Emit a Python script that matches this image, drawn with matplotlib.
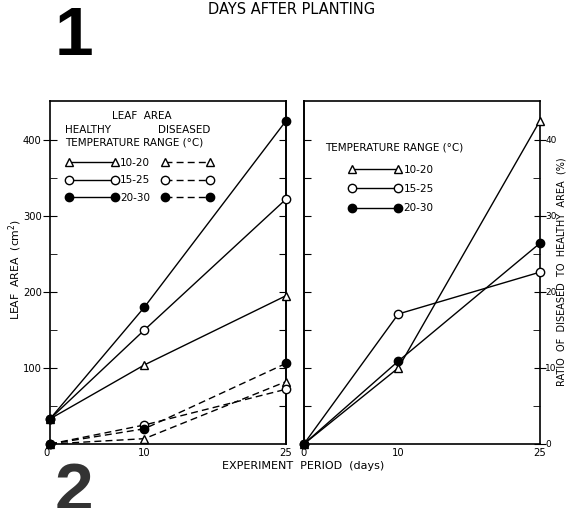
import matplotlib
matplotlib.use("Agg")
import matplotlib.pyplot as plt
from matplotlib.lines import Line2D
from matplotlib.ticker import FixedLocator

# experiment period (days)
days = [0, 10, 25]
temp_ranges = ["10-20", "15-25", "20-30"]

# leaf area (cm2), healthy and diseased
healthy_1020 = [33, 104, 195]
healthy_1525 = [33, 150, 322]
healthy_2030 = [33, 180, 425]
diseased_1020 = [0, 7, 82]
diseased_1525 = [0, 25, 72]
diseased_2030 = [0, 20, 106]

# ratio of diseased to healthy area (%)
ratio_1020 = [0, 10.0, 42.5]
ratio_1525 = [0, 17.1, 22.6]
ratio_2030 = [0, 10.9, 26.4]

plt.rcParams["font.family"] = "DejaVu Sans"
fig = plt.figure(figsize=(5.67, 5.08), dpi=100)

styles = [dict(marker="^", mfc="white"), dict(marker="o", mfc="white"),
          dict(marker="o", mfc="black")]
common = dict(color="black", lw=1, ms=6, mec="black", mew=1, clip_on=False)

# ---- left panel: leaf area
ax1 = fig.add_axes([0.0882, 0.126, 0.4162, 0.675])
healthy = [healthy_1020, healthy_1525, healthy_2030]
diseased = [diseased_1020, diseased_1525, diseased_2030]
for h, d, st in zip(healthy, diseased, styles):
    ax1.plot(days, d, ls=(0, (5, 3)), zorder=3, **st, **common)
    ax1.plot(days, h, ls="-", zorder=4, **st, **common)

ax1.set_xlim(0, 25)
ax1.set_ylim(0, 451)
ax1.set_xticks(days)
ax1.set_xticklabels([str(d) for d in days], fontsize=7.2)
ax1.get_xticklabels()[0].set_ha("right")
ax1.tick_params(axis="x", length=0, pad=3)
ax1.set_yticks([100, 200, 300, 400])
ax1.yaxis.set_minor_locator(FixedLocator([50, 150, 250, 350]))
ax1.tick_params(axis="y", which="major", direction="inout", length=10, labelsize=7.2, pad=1)
ax1.tick_params(axis="y", which="minor", direction="in", length=5)
sec1 = ax1.secondary_yaxis("right")
sec1.set_yticks([50, 100, 150, 200, 250, 300, 350, 400])
sec1.tick_params(direction="in", length=5, labelright=False)
for sp in list(ax1.spines.values()) + list(sec1.spines.values()):
    sp.set_linewidth(1.2)

# legend of left panel
h_handles = [Line2D([], [], ls="-", **st, **common) for st in styles]
d_handles = [Line2D([], [], ls=(0, (5, 3)), **st, **common) for st in styles]
leg1 = ax1.legend(h_handles, temp_ranges, numpoints=2, frameon=False, fontsize=7.5,
                  loc="upper left", bbox_to_anchor=(0.045, 0.85), borderpad=0,
                  handlelength=5.0, handletextpad=0.2, labelspacing=0.72)
ax1.add_artist(leg1)
ax1.legend(d_handles, ["", "", ""], numpoints=2, frameon=False, fontsize=7.5,
           loc="upper left", bbox_to_anchor=(0.45, 0.85), borderpad=0,
           handlelength=5.0, handletextpad=0, labelspacing=0.72)
ax1.text(0.39, 0.956, "LEAF  AREA", transform=ax1.transAxes, fontsize=7.5,
         ha="center", va="center")
ax1.text(0.064, 0.915, "HEALTHY", transform=ax1.transAxes, fontsize=7.5, va="center")
ax1.text(0.458, 0.915, "DISEASED", transform=ax1.transAxes, fontsize=7.5, va="center")
ax1.text(0.064, 0.878, "TEMPERATURE RANGE (°C)", transform=ax1.transAxes,
         fontsize=7.5, va="center")

# ---- right panel: ratio of diseased to healthy area
ax2 = fig.add_axes([0.536, 0.126, 0.4162, 0.675])
ratios = [ratio_1020, ratio_1525, ratio_2030]
for r, st in zip(ratios, styles):
    ax2.plot(days, r, ls="-", zorder=4, **st, **common)
ax2.set_xlim(0, 25)
ax2.set_ylim(0, 45.1)
ax2.set_xticks(days)
ax2.set_xticklabels([str(d) for d in days], fontsize=7.2)
ax2.tick_params(axis="x", length=0, pad=3)
ax2.yaxis.tick_right()
ax2.set_yticks([0, 10, 20, 30, 40])
ax2.yaxis.set_minor_locator(FixedLocator([5, 15, 25, 35]))
ax2.tick_params(axis="y", which="major", direction="inout", length=8, labelsize=6.5, pad=0)
ax2.tick_params(axis="y", which="minor", direction="in", length=5)
sec2 = ax2.secondary_yaxis("left")
sec2.set_yticks([5, 10, 15, 20, 25, 30, 35, 40])
sec2.tick_params(direction="in", length=5, labelleft=False)
for sp in list(ax2.spines.values()) + list(sec2.spines.values()):
    sp.set_linewidth(1.2)

ax2.legend(h_handles, temp_ranges, numpoints=2, frameon=False, fontsize=7.5,
           loc="upper left", bbox_to_anchor=(0.17, 0.83), borderpad=0,
           handlelength=5.0, handletextpad=0.2, labelspacing=0.9)
ax2.text(0.089, 0.866, "TEMPERATURE RANGE (°C)", transform=ax2.transAxes,
         fontsize=7.5, va="center")

# ---- figure texts
fig.text(0.026, 0.469, "LEAF  AREA  (cm$^2$)", rotation=90, fontsize=7.8,
         ha="center", va="center")
fig.text(0.9905, 0.465, "RATIO  OF  DISEASED  TO  HEALTHY  AREA  (%)", rotation=90,
         fontsize=7, ha="center", va="center")
fig.text(0.534, 0.082, "EXPERIMENT  PERIOD  (days)", fontsize=8, ha="center", va="center")
fig.text(0.515, 0.982, "DAYS AFTER PLANTING", fontsize=10.5, ha="center", va="center")
narrow = ["Liberation Sans Narrow", "Liberation Sans"]
fig.text(0.097, 0.928, "1", fontsize=50, fontweight="bold", family=narrow,
         ha="left", va="center")
fig.text(0.097, 0.03, "2", fontsize=50, fontweight="bold", family=narrow,
         color="#333333", ha="left", va="center")

fig.savefig("out.png", dpi=100)
